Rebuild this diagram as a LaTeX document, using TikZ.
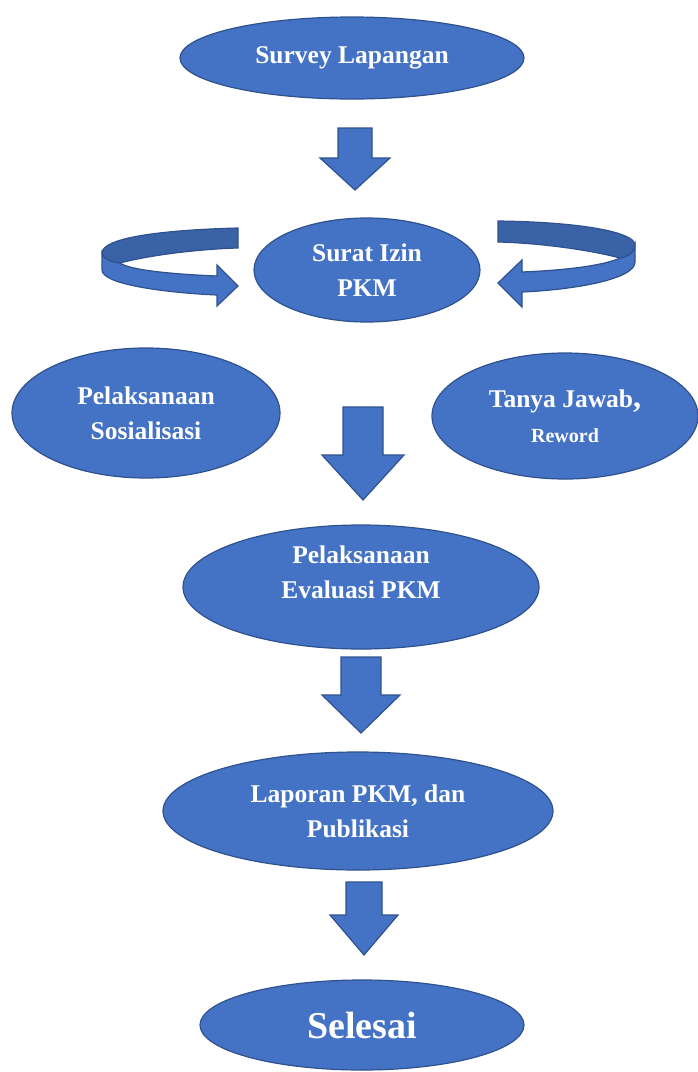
\documentclass[tikz,border=0pt]{standalone}
\usepackage{fontspec}
\setmainfont{Liberation Serif}
\usetikzlibrary{shapes.geometric}
\definecolor{boxblue}{HTML}{4472C4}
\definecolor{edgeblue}{HTML}{2F528F}
\definecolor{foldblue}{HTML}{3A62A7}
\begin{document}
\begin{tikzpicture}
        [x=1pt,y=-1pt,
        stepellipse/.style={shape=ellipse,draw=edgeblue,fill=boxblue,line width=1.2pt,inner sep=0pt,%
          text=white,font=\bfseries\fontsize{25.5}{35}\selectfont,align=center},%
        textplain/.style={},textraised/.style={text depth=30pt},%
        blockarrow/.style={draw=edgeblue,fill=boxblue,line width=1.2pt,line join=miter}]
        \useasboundingbox (0,0) rectangle (697,1072);
        %% ellipses
        \foreach \nodename/\x/\y/\w/\h/\textpos/\nodetext in { survey/352/58/344/82/textplain/{Survey Lapangan},
          izin/367/270/226/104/textplain/{Surat Izin\\PKM}, sosialisasi/146/413/268/130/textplain/{Pelaksanaan\\Sosialisasi},
          tanya/565/416/266/126/textplain/{Tanya Jawab{\fontsize{32}{35}\selectfont,}\\{\fontsize{20}{35}\selectfont Reword}},
          evaluasi/361/587/356/124/textraised/{Pelaksanaan\\Evaluasi PKM},
          laporan/358/811/390/118/textplain/{Laporan PKM, dan\\Publikasi},
          selesai/362/1025/324/90/textplain/{{\fontsize{38}{40}\selectfont Selesai}}}
        {
          \node (\nodename) at (\x,\y) [stepellipse,minimum width=\w pt,minimum height=\h pt,\textpos] {\nodetext};
        }
        %% block arrows
        \foreach \x/\top/\shaft/\neck/\head/\tip in {355/128/17/158/35/190, 363/407/20/455/41/500,
          361/657/20/695/39/733, 364/882/18/915/34/955}
        {
          \draw[blockarrow] (\x-\shaft,\top) -- (\x+\shaft,\top) -- (\x+\shaft,\neck) -- (\x+\head,\neck)
            -- (\x,\tip) -- (\x-\head,\neck) -- (\x-\shaft,\neck) -- cycle;
        }
        %% curved arrows
        \draw[blockarrow,fill=foldblue] (238,228) .. controls (160,230) and (102,238) .. (102,253)
          .. controls (102,258) and (110,262) .. (120,263) .. controls (150,255) and (200,249) .. (238,248) -- cycle;
        \draw[blockarrow] (102,253) -- (102,270) .. controls (102,285) and (170,293) .. (217,295) -- (217,306)
          -- (238,286) -- (217,265) -- (217,276) .. controls (170,274) and (130,270) .. (120,263)
          .. controls (110,262) and (102,258) .. (102,253) -- cycle;
        \draw[blockarrow,fill=foldblue] (498,221) .. controls (580,222) and (635,232) .. (635,245)
          .. controls (635,252) and (628,257) .. (620,258) .. controls (590,250) and (540,243) .. (498,242) -- cycle;
        \draw[blockarrow] (635,245) -- (635,262) .. controls (635,280) and (570,290) .. (522,292) -- (522,307)
          -- (498,283) -- (522,260) -- (522,272) .. controls (570,270) and (605,265) .. (620,258)
          .. controls (628,257) and (635,252) .. (635,245) -- cycle;
      \end{tikzpicture}
\end{document}
